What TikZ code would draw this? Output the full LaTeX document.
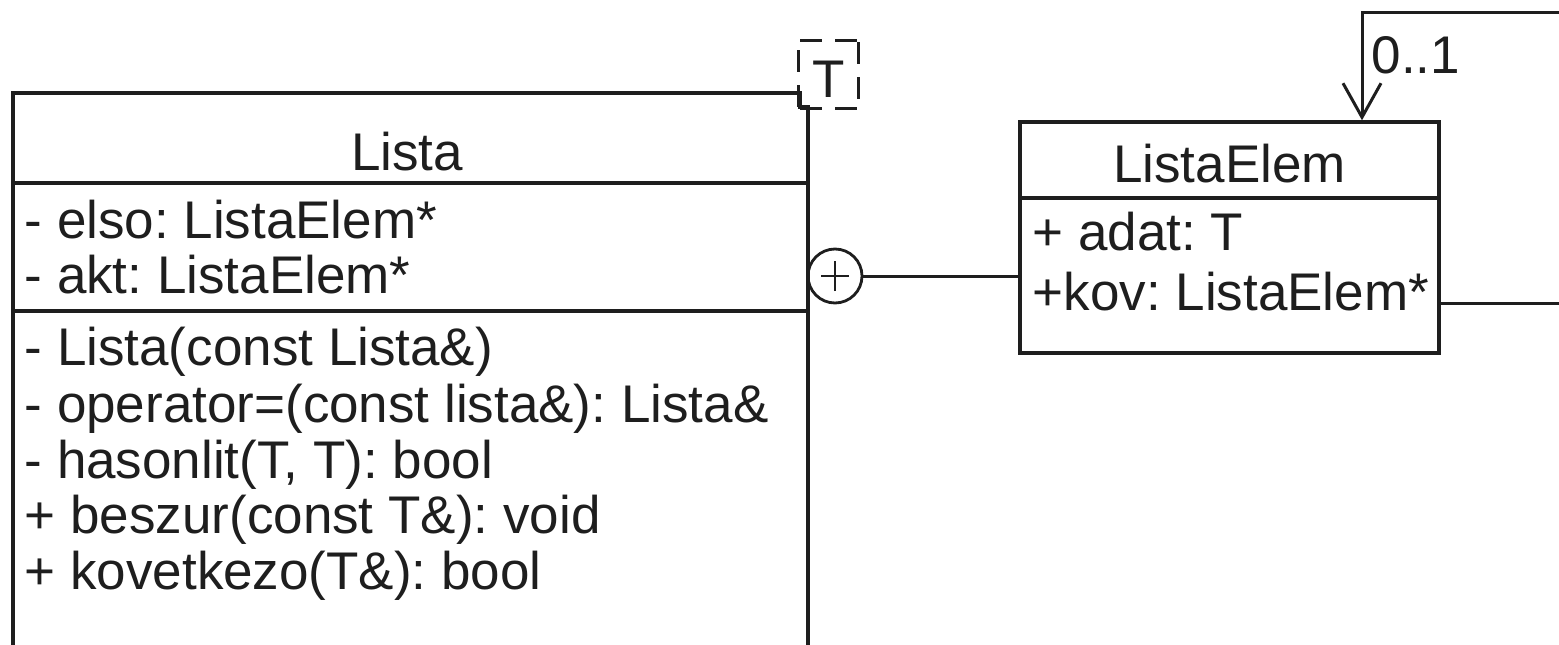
\documentclass[tikz,border=0pt]{standalone}
\usepackage{fontspec}
\setmainfont{Liberation Sans}
\usetikzlibrary{arrows.meta}
\definecolor{ink}{RGB}{30,30,30}
\frenchspacing
\begin{document}
\begin{tikzpicture}[x=1pt,y=-1pt, line width=3.4pt, draw=ink,
  txt/.style={anchor=base west, inner sep=0pt, text=ink, font=\fontsize{53}{56}\selectfont\frenchspacing},
  ttl/.style={anchor=base, inner sep=0pt, text=ink, font=\fontsize{53}{56}\selectfont\frenchspacing},
  classbox/.style={draw=ink, rectangle, inner sep=0pt, line width=3.4pt},
  tpldash/.style={draw=ink, line width=3.2pt, dash pattern=on 22pt off 13pt, dash phase=-2pt},
  assoc/.style={draw=ink, line width=3pt}]
\useasboundingbox (0,0) rectangle (1559,645);
\clip (0,0) rectangle (1559,645);
% ---------- Lista (cut off at the bottom) ----------
\coordinate (listaTL) at (13,93);
\coordinate (listaBL) at (13,650);
\coordinate (notchA) at (800,93);
\coordinate (notchB) at (800,107);
\coordinate (notchC) at (808,107);
\coordinate (listaBR) at (808,650);
\draw (listaBL) -- (listaTL) -- (notchA) -- (notchB) -- (notchC) -- (listaBR);
\draw (13,183) -- (808,183);
\draw (13,311) -- (808,311);
\node[ttl] (listaName) at (407,170) {Lista};
\node[txt] (a1) at (23,238) {- elso: ListaElem*};
\node[txt] (a2) at (23,293) {- akt: ListaElem*};
\node[txt] (m1) at (23,365) {- Lista(const Lista\&)};
\node[txt] (m2) at (23,422) {- operator=(const lista\&): Lista\&};
\node[txt] (m3) at (23,478) {- hasonlit(T, T): bool};
\node[txt] (m4) at (23,533) {+ beszur(const T\&): void};
\node[txt] (m5) at (23,589) {+ kovetkezo(T\&): bool};
% template parameter box
\node[inner sep=0pt, minimum width=57pt, minimum height=65pt] (tpl) at (828.5,74.5) {};
\draw[tpldash] (tpl.north west) -- (tpl.north east);
\draw[tpldash] (tpl.north east) -- (tpl.south east);
\draw[tpldash] (tpl.south east) -- (tpl.south west);
\draw[tpldash] (tpl.south west) -- (tpl.north west);
\node[ttl] (tplT) at (828.5,97) {T};
% ---------- ListaElem ----------
\node[classbox, minimum width=419pt, minimum height=231pt] (elem) at (1229.5,237.5) {};
\coordinate (sepL) at (1020,198);
\coordinate (sepR) at (1439,198);
\draw (sepL) -- (sepR);
\node[ttl] (elemName) at (1229.5,182) {ListaElem};
\node[txt] (e1) at (1031,250) {+ adat: T};
\node[txt] (e2) at (1031,310) {+kov: ListaElem*};
% ---------- nesting connector ----------
\node[draw=ink, circle, minimum size=54pt, inner sep=0pt, line width=2.8pt] (nest) at (835,276) {};
\draw[line width=2.8pt] ([xshift=-14pt]nest.center) -- ([xshift=14pt]nest.center);
\draw[line width=2.8pt] ([yshift=-15pt]nest.center) -- ([yshift=15pt]nest.center);
\draw[assoc] (nest.east) -- (nest.east -| elem.west);
% ---------- self association (its right side lies beyond the picture) ----------
\coordinate (kovOut) at (1439,303);
\coordinate (loopR1) at (1580,303);
\coordinate (loopR2) at (1580,12);
\coordinate (loopL) at (1362,12);
\coordinate (loopX) at (1362,0);
\draw[assoc, -{Straight Barb[length=34pt,width=38pt,line width=3pt]}]
  (kovOut) -- (loopR1) -- (loopR2) -- (loopL) -- (loopX |- elem.north);
\node[txt] (mult) at (1370,73) {0..1};
\end{tikzpicture}
\end{document}
